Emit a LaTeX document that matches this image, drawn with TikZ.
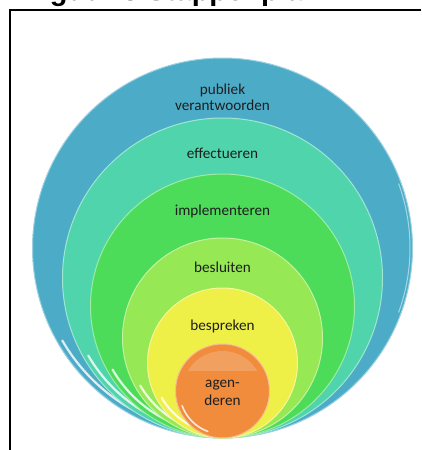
\documentclass[tikz,border=0pt]{standalone}
\usepackage{fontspec}
\setmainfont{Carlito}
\newfontfamily\titlefont{Liberation Sans}
\definecolor{cblue}{RGB}{76,172,200}
\definecolor{cteal}{RGB}{80,212,172}
\definecolor{cgreen}{RGB}{76,220,90}
\definecolor{clime}{RGB}{150,232,84}
\definecolor{cyellow}{RGB}{238,240,72}
\definecolor{corange}{RGB}{240,140,60}
\definecolor{ctext}{RGB}{30,30,30}
\begin{document}
\begin{tikzpicture}[x=1pt,y=-1pt,
  ring/.style={circle, inner sep=0pt, outer sep=0pt, fill=#1, draw=white!45!#1, line width=1pt},
  lbl/.style={anchor=base, align=center, inner sep=0pt, text=ctext, font=\fontsize{15.2}{16.4}\selectfont},
  gloss/.style={white, line width=2.2pt, opacity=0.8, line cap=round},
  frame/.style={black, line width=#1}]
\useasboundingbox (0,0) rectangle (421,450);
\clip (0,0) rectangle (421,450);
\node[font=\titlefont\bfseries\fontsize{29}{30}\selectfont, anchor=base west, inner sep=0pt] (title) at (24,0) {Figuur 3 Stappenplan};
\coordinate (tr) at (421,10);
\coordinate (tl) at (10,10);
\coordinate (lm) at (10,43);
\coordinate (bl) at (10,450);
\draw[frame=2pt] (tr) -- (tl) -- (lm);
\draw[frame=1.3pt] (lm) -- (bl);
% rings, all tangent at the bottom (y = 438)
\node[ring=cblue, minimum size=380pt] (c1) at (222.5,248) {};
\draw[gloss] (c1.center) ++(100:185) arc[start angle=100, end angle=150, radius=185];
\draw[gloss, line width=1pt, opacity=0.5] (c1.center) ++(-20:187.5) arc[start angle=-20, end angle=20, radius=187.5];
\node[ring=cteal, minimum size=320pt] (c2) at (222.5,278) {};
\draw[gloss] (c2.center) ++(100:155) arc[start angle=100, end angle=150, radius=155];
\node[ring=cgreen, minimum size=264pt] (c3) at (222.5,306) {};
\draw[gloss] (c3.center) ++(100:127) arc[start angle=100, end angle=150, radius=127];
\node[ring=clime, minimum size=200pt] (c4) at (222.5,338) {};
\draw[gloss] (c4.center) ++(100:95) arc[start angle=100, end angle=150, radius=95];
\node[ring=cyellow, minimum size=150pt] (c5) at (222.5,363) {};
\draw[gloss] (c5.center) ++(100:70) arc[start angle=100, end angle=150, radius=70];
\node[ring=corange, minimum size=94pt] (c6) at (222.5,391) {};
\draw[gloss, line width=1.6pt] (c6.center) ++(110:43) arc[start angle=110, end angle=160, radius=43];
\fill[white, opacity=0.18] (c6.center) ++(-150:40) arc[start angle=-150, end angle=-30, radius=40] -- cycle;
% labels
\node[lbl] (t1) at (222.5,110.7) {publiek\\verantwoorden};
\node[lbl] (t2) at (222.5,158.3) {effectueren};
\node[lbl] (t3) at (222.5,215.7) {implementeren};
\node[lbl] (t4) at (222.5,272.7) {besluiten};
\node[lbl] (t5) at (222.5,330.7) {bespreken};
\node[lbl, font=\fontsize{15.2}{17.7}\selectfont] (t6) at (222.5,405) {agen-\\deren};
\end{tikzpicture}
\end{document}
